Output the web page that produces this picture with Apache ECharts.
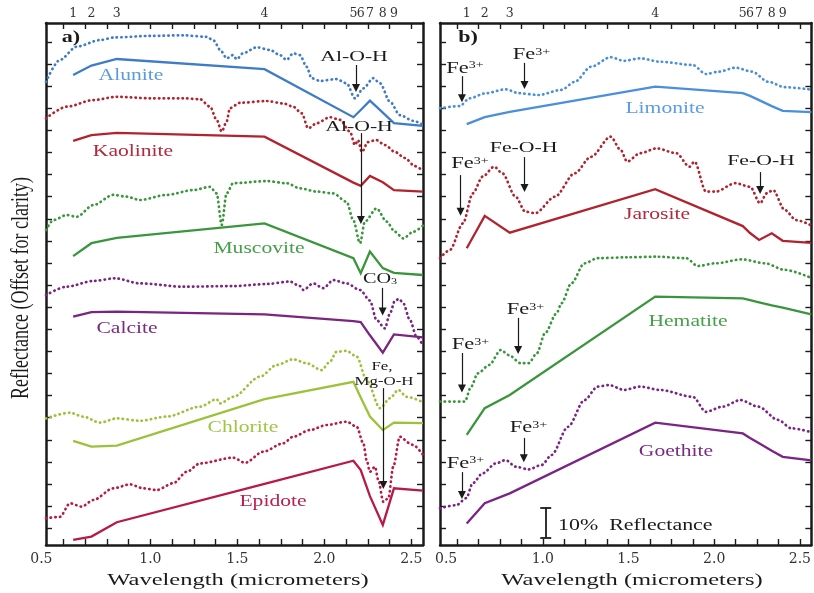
<!DOCTYPE html>
<html>
<head>
<meta charset="utf-8">
<script src="https://cdn.jsdelivr.net/npm/echarts@6/dist/echarts.min.js"></script>
<style>
  html, body { margin: 0; padding: 0; background: #fff; }
  #chart { width: 814px; height: 593px; }
</style>
</head>
<body>
<div id="chart"></div>
<script>
// ASTER band centres (micrometres) and the band numbers printed on the top axis
const bandWl = [0.556, 0.661, 0.807, 1.656, 2.167, 2.209, 2.262, 2.336, 2.400];
const bandNames = ['1', '2', '3', '4', '5', '6', '7', '8', '9'];
const wlMin = 0.4, wlMax = 2.567;
const wlLabels = [0.5, 1.0, 1.5, 2.0, 2.5];
const reflMax = 174;

// Laboratory spectra, [wavelength, reflectance + offset]
const aluniteLab = [[0.40,154.4],[0.48,161.7],[0.576,166.1],[0.71,168.3],[0.797,169.2],[1.0,169.7],[1.187,169.9],[1.324,169.4],[1.36,168.3],[1.41,164.4],[1.438,162.2],[1.475,163.3],[1.496,161.9],[1.532,163.9],[1.611,165.9],[1.687,165.0],[1.745,163.3],[1.783,161.7],[1.821,163.9],[1.86,163.3],[1.898,159.4],[1.927,155.6],[1.975,154.7],[2.07,155.3],[2.128,153.9],[2.176,148.9],[2.224,152.2],[2.281,155.6],[2.32,153.9],[2.377,147.8],[2.434,143.3],[2.51,141.4],[2.567,140.0]];
const kaoliniteLab = [[0.40,142.2],[0.519,146.1],[0.672,148.3],[0.806,149.4],[1.0,148.9],[1.189,148.9],[1.285,148.6],[1.343,146.1],[1.381,141.7],[1.41,137.8],[1.438,141.1],[1.457,145.6],[1.515,147.4],[1.668,148.0],[1.764,147.2],[1.821,146.1],[1.87,143.9],[1.907,138.9],[1.956,140.6],[2.032,142.6],[2.09,141.7],[2.147,137.8],[2.176,133.3],[2.193,135.0],[2.216,131.0],[2.25,134.3],[2.297,135.0],[2.349,133.3],[2.406,131.0],[2.463,129.0],[2.52,126.3],[2.567,124.7]];
const muscoviteLab = [[0.40,105.0],[0.442,108.3],[0.519,110.0],[0.576,109.4],[0.672,113.3],[0.787,116.7],[0.864,116.1],[0.94,115.0],[1.094,116.7],[1.247,118.3],[1.343,119.4],[1.381,117.2],[1.41,106.7],[1.438,117.2],[1.476,120.6],[1.668,121.3],[1.783,120.6],[1.86,118.9],[1.956,117.8],[2.051,117.2],[2.128,114.4],[2.166,108.3],[2.205,100.6],[2.233,107.8],[2.3,112.2],[2.358,107.8],[2.406,104.4],[2.453,102.2],[2.511,104.4],[2.567,106.5]];
const calciteLab = [[0.40,83.3],[0.519,86.1],[0.672,88.0],[0.797,88.9],[0.94,87.2],[1.189,86.1],[1.476,86.3],[1.668,87.0],[1.802,87.8],[1.86,86.3],[1.879,85.0],[1.936,87.2],[1.994,85.6],[2.051,88.3],[2.128,87.2],[2.205,85.0],[2.262,81.5],[2.3,75.0],[2.348,72.2],[2.377,77.2],[2.406,81.5],[2.43,82.0],[2.453,80.6],[2.492,75.0],[2.53,69.4],[2.567,66.5]];
const chloriteLab = [[0.40,42.2],[0.538,44.1],[0.614,42.8],[0.71,40.8],[0.806,42.2],[0.94,41.4],[1.094,42.8],[1.285,46.1],[1.381,48.6],[1.4,47.2],[1.476,49.4],[1.63,56.1],[1.726,60.0],[1.821,61.9],[1.898,60.6],[1.984,58.3],[2.032,61.1],[2.07,64.4],[2.128,64.7],[2.186,62.8],[2.243,55.0],[2.32,45.6],[2.377,48.9],[2.425,51.7],[2.473,49.4],[2.567,47.6]];
const epidoteLab = [[0.40,8.9],[0.48,9.4],[0.538,13.9],[0.605,12.8],[0.672,15.0],[0.787,18.9],[0.883,20.2],[0.959,18.9],[1.036,18.3],[1.132,20.6],[1.209,24.4],[1.285,27.2],[1.476,29.1],[1.544,27.4],[1.649,31.1],[1.764,33.9],[1.821,36.1],[1.917,38.3],[2.013,40.0],[2.128,41.1],[2.186,39.4],[2.224,33.9],[2.243,28.3],[2.262,24.4],[2.291,26.1],[2.31,21.7],[2.339,14.4],[2.368,15.6],[2.396,26.1],[2.434,36.1],[2.492,33.9],[2.511,33.3],[2.567,30.0]];
const limoniteLab = [[0.40,145.6],[0.515,146.3],[0.572,148.9],[0.668,150.6],[0.783,151.9],[0.86,150.6],[0.975,150.0],[1.109,151.7],[1.186,154.4],[1.281,159.4],[1.396,162.6],[1.473,161.4],[1.568,162.2],[1.683,161.1],[1.875,160.0],[1.952,157.0],[2.028,157.8],[2.124,159.1],[2.22,157.8],[2.316,154.4],[2.411,152.6],[2.567,151.8]];
const jarositeLab = [[0.40,95.6],[0.457,98.3],[0.534,107.2],[0.591,117.2],[0.649,122.8],[0.716,126.1],[0.764,123.9],[0.841,116.1],[0.898,111.1],[0.956,110.6],[1.071,116.1],[1.186,123.9],[1.281,129.4],[1.396,136.1],[1.454,131.7],[1.492,127.8],[1.568,130.6],[1.664,132.2],[1.779,130.6],[1.856,126.1],[1.885,127.8],[1.952,117.8],[2.009,117.8],[2.124,120.6],[2.21,119.4],[2.268,113.9],[2.306,117.2],[2.344,118.3],[2.411,111.7],[2.479,108.3],[2.567,106.5]];
const hematiteLab = [[0.40,47.8],[0.544,47.8],[0.582,52.8],[0.62,57.2],[0.687,60.0],[0.755,65.0],[0.802,63.3],[0.87,60.6],[0.917,60.6],[0.965,63.9],[1.013,70.6],[1.08,77.2],[1.109,80.6],[1.166,87.2],[1.243,93.9],[1.32,95.6],[1.492,95.9],[1.664,96.1],[1.837,95.6],[1.904,93.0],[2.009,93.9],[2.163,95.2],[2.297,93.9],[2.411,91.7],[2.567,89.0]];
const goethiteLab = [[0.40,12.2],[0.496,13.3],[0.553,15.6],[0.591,20.6],[0.649,23.9],[0.726,27.2],[0.783,28.3],[0.841,26.1],[0.917,25.2],[0.994,26.7],[1.051,30.0],[1.147,39.4],[1.243,48.3],[1.32,52.8],[1.387,53.3],[1.473,51.7],[1.568,52.8],[1.683,51.7],[1.875,49.4],[1.952,44.4],[2.048,46.1],[2.153,48.3],[2.258,46.1],[2.373,41.7],[2.45,38.9],[2.567,37.6]];

// Band-averaged spectra: one value per band 1-9, then the value at the right edge
const aluniteBand   = [156.7,159.8,162.0,158.6,142.6,145.0,148.1,144.1,140.6,139.7];
const kaoliniteBand = [134.7,136.6,137.4,136.1,120.8,119.7,123.0,120.9,118.3,117.8];
const muscoviteBand = [96.3,100.6,102.4,107.2,95.6,90.6,97.8,92.3,90.7,90.0];
const calciteBand   = [76.1,77.6,77.8,76.9,74.6,74.3,69.9,64.1,70.2,69.2];
const chloriteBand  = [34.7,32.8,33.1,48.6,54.4,49.2,42.8,38.3,40.8,40.6];
const epidoteBand   = [1.7,2.8,7.6,20.4,28.1,25.0,16.3,6.7,18.9,18.1];
const limoniteBand  = [140.3,142.6,144.4,152.8,150.6,149.7,148.3,146.3,144.7,144.3];
const jarositeBand  = [98.9,109.7,104.1,118.6,106.3,104.0,101.7,103.9,101.4,100.7];
const hematiteBand  = [36.7,45.6,50.0,82.8,82.2,81.6,80.9,79.9,79.1,76.9];
const goethiteBand  = [7.2,13.9,17.2,40.8,37.2,35.7,33.9,31.4,29.4,28.2];

// Absorption-feature arrows: [wavelength, tail, head]
const arrowsA = [[2.182,160.0,152.3],[2.21,137.3,108.3],[2.335,85.7,77.8],[2.339,52.3,20.0]];
const arrowsB = [[0.528,156.3,148.9],[0.893,160.7,153.3],[0.893,129.3,119.0],[0.52,123.3,111.1],[2.268,124.3,118.3],[0.856,75.7,65.0],[0.528,64.0,52.2],[0.889,35.7,28.9],[0.528,24.3,16.7]];

// 10 % reflectance scale bar
const scaleBarWl = 1.017, scaleBarBase = 2.4, scaleBarSpan = 10, scaleBarCap = 0.032;

const serif = '"Liberation Serif", "Times New Roman", serif';
const tickSerif = '"DejaVu Serif", serif';
const ink = '#1a1a1a';

const xTickVals = Array.from({ length: 17 }, (_, i) => 0.5 + 0.125 * i);
const yTickVals = Array.from({ length: 23 }, (_, i) => +(5.57 + 7.37 * i).toFixed(3));

function bandLabel(v) {
  const i = bandWl.findIndex(w => Math.abs(w - v) < 1e-6);
  return i < 0 ? '' : bandNames[i];
}

const frameLine = { show: true, onZero: false, lineStyle: { color: ink, width: 2.5 } };
function tickStyle(vals) {
  return { show: true, inside: true, length: 6, customValues: vals, lineStyle: { color: ink, width: 1.4 } };
}

// the first wavelength label sits a little left of its tick
function xAxesFor(gridIndex, firstShift) {
  return [
    { type: 'value', gridIndex, position: 'bottom', min: wlMin, max: wlMax,
      axisLine: frameLine, axisTick: tickStyle(xTickVals), splitLine: { show: false },
      axisLabel: { show: true, customValues: wlLabels,
                   formatter: v => (v === wlLabels[0] ? '{f|' + v.toFixed(1) + '}' : v.toFixed(1)),
                   rich: { f: { fontFamily: tickSerif, fontSize: 14, color: '#333', padding: [0, firstShift, 0, 0] } },
                   fontFamily: tickSerif, fontSize: 14, color: '#333', margin: 7 } },
    { type: 'value', gridIndex, position: 'top', min: wlMin, max: wlMax,
      axisLine: frameLine, axisTick: tickStyle(xTickVals), splitLine: { show: false },
      axisLabel: { show: true, customValues: bandWl, formatter: bandLabel,
                   fontFamily: tickSerif, fontSize: 12.5, color: '#333', margin: 3 } }
  ];
}
function yAxesFor(gridIndex) {
  return ['left', 'right'].map(position => ({
    type: 'value', gridIndex, position, min: 0, max: reflMax,
    axisLine: frameLine, axisTick: tickStyle(yTickVals),
    axisLabel: { show: false }, splitLine: { show: false }
  }));
}

function labSeries(data, color, xi, yi) {
  return { type: 'line', data, xAxisIndex: xi, yAxisIndex: yi, symbol: 'none', showSymbol: false,
    smooth: 0.3, smoothMonotone: 'x', clip: true, silent: true, z: 2,
    lineStyle: { color, width: 2.7, type: [0.4, 4.3], cap: 'round' } };
}
function bandSeries(vals, color, xi, yi) {
  const data = bandWl.concat([wlMax]).map((w, i) => [w, vals[i]]);
  return { type: 'line', data, xAxisIndex: xi, yAxisIndex: yi, symbol: 'none', showSymbol: false,
    clip: true, silent: true, z: 3, lineStyle: { color, width: 2.3, join: 'miter' } };
}
function arrowSeries(list, xi, yi) {
  return { type: 'line', data: [], xAxisIndex: xi, yAxisIndex: yi, silent: true,
    markLine: { silent: true, animation: false, symbol: ['none', 'triangle'], symbolSize: 8,
      label: { show: false }, emphasis: { disabled: true },
      lineStyle: { color: ink, width: 1.2, type: 'solid' },
      data: list.map(a => [{ coord: [a[0], a[1]] }, { coord: [a[0], a[2]] }]) } };
}
function scaleBarSeries(xi, yi) {
  const top = scaleBarBase + scaleBarSpan;
  return { type: 'line', data: [], xAxisIndex: xi, yAxisIndex: yi, silent: true,
    markLine: { silent: true, animation: false, symbol: ['none', 'none'],
      label: { show: false }, emphasis: { disabled: true },
      lineStyle: { color: ink, width: 1.8, type: 'solid' },
      data: [
        [{ coord: [scaleBarWl, scaleBarBase] }, { coord: [scaleBarWl, top] }],
        [{ coord: [scaleBarWl - scaleBarCap, scaleBarBase] }, { coord: [scaleBarWl + scaleBarCap, scaleBarBase] }],
        [{ coord: [scaleBarWl - scaleBarCap, top] }, { coord: [scaleBarWl + scaleBarCap, top] }]
      ] } };
}

// Minerals: colour of the curves, colour of the name
const col = {
  alunite:   ['#3f7cc8', '#5b9bd8'],
  kaolinite: ['#b3232f', '#b3283a'],
  muscovite: ['#3a963c', '#45a047'],
  calcite:   ['#7a2580', '#7a2a80'],
  chlorite:  ['#9cc23a', '#a2c444'],
  epidote:   ['#b81a48', '#b8204e'],
  limonite:  ['#4a8fdb', '#5a9de0'],
  jarosite:  ['#b0232f', '#b3283a'],
  hematite:  ['#3a963c', '#45a047'],
  goethite:  ['#7a2585', '#7a2a84']
};

const series = [
  labSeries(aluniteLab, col.alunite[0], 0, 0),     bandSeries(aluniteBand, col.alunite[0], 0, 0),
  labSeries(kaoliniteLab, col.kaolinite[0], 0, 0), bandSeries(kaoliniteBand, col.kaolinite[0], 0, 0),
  labSeries(muscoviteLab, col.muscovite[0], 0, 0), bandSeries(muscoviteBand, col.muscovite[0], 0, 0),
  labSeries(calciteLab, col.calcite[0], 0, 0),     bandSeries(calciteBand, col.calcite[0], 0, 0),
  labSeries(chloriteLab, col.chlorite[0], 0, 0),   bandSeries(chloriteBand, col.chlorite[0], 0, 0),
  labSeries(epidoteLab, col.epidote[0], 0, 0),     bandSeries(epidoteBand, col.epidote[0], 0, 0),
  labSeries(limoniteLab, col.limonite[0], 2, 2),   bandSeries(limoniteBand, col.limonite[0], 2, 2),
  labSeries(jarositeLab, col.jarosite[0], 2, 2),   bandSeries(jarositeBand, col.jarosite[0], 2, 2),
  labSeries(hematiteLab, col.hematite[0], 2, 2),   bandSeries(hematiteBand, col.hematite[0], 2, 2),
  labSeries(goethiteLab, col.goethite[0], 2, 2),   bandSeries(goethiteBand, col.goethite[0], 2, 2),
  arrowSeries(arrowsA, 0, 0),
  arrowSeries(arrowsB, 2, 2),
  scaleBarSeries(2, 2)
];

// Text helpers (the printed lettering is set wide, hence the horizontal scale)
function txt(text, x, y, size, color, sx, opts) {
  opts = opts || {};
  return { type: 'text', x, y, scaleX: sx, rotation: opts.rotation || 0, scaleY: opts.sy || 1,
    silent: true, z: 20,
    style: { text, fill: color, fontFamily: serif, fontSize: size, fontWeight: opts.weight || 'normal',
             align: opts.align || 'center', verticalAlign: 'middle' } };
}
function fe3(x, y) {
  return { type: 'text', x, y, scaleX: 1.4, silent: true, z: 20,
    style: { text: '{a|Fe}{s|3+}', align: 'center', verticalAlign: 'middle',
      rich: { a: { fontFamily: serif, fontSize: 16, fill: ink, lineHeight: 16 },
              s: { fontFamily: serif, fontSize: 10, fill: ink, verticalAlign: 'top', lineHeight: 10, padding: [0, 0, 6, 0] } } } };
}

const graphic = [
  txt('a)', 71, 38, 17, ink, 1.3, { weight: 'bold' }),
  txt('b)', 468, 38, 17, ink, 1.3, { weight: 'bold' }),
  txt('Alunite', 131, 76, 17, col.alunite[1], 1.27),
  txt('Kaolinite', 133, 152, 17, col.kaolinite[1], 1.27),
  txt('Muscovite', 259, 249, 17, col.muscovite[1], 1.27),
  txt('Calcite', 127, 329, 17, col.calcite[1], 1.27),
  txt('Chlorite', 243, 427.5, 17, col.chlorite[1], 1.27),
  txt('Epidote', 273, 502, 17, col.epidote[1], 1.27),
  txt('Limonite', 665, 109, 17, col.limonite[1], 1.27),
  txt('Jarosite', 657, 215, 17, col.jarosite[1], 1.27),
  txt('Hematite', 688, 321.7, 17, col.hematite[1], 1.27),
  txt('Goethite', 676, 451.7, 17, col.goethite[1], 1.27),
  txt('Al-O-H', 354, 57.5, 15, ink, 1.45),
  txt('Al-O-H', 359, 127, 15, ink, 1.45),
  { type: 'text', x: 380, y: 279, scaleX: 1.35, silent: true, z: 20,
    style: { text: '{a|CO}{s|3}', align: 'center', verticalAlign: 'middle',
      rich: { a: { fontFamily: serif, fontSize: 15, fill: ink, lineHeight: 15 },
              s: { fontFamily: serif, fontSize: 9, fill: ink, verticalAlign: 'bottom', lineHeight: 9, padding: [5, 0, 0, 0] } } } },
  txt('Fe,', 382, 366.7, 13, ink, 1.3),
  txt('Mg-O-H', 384, 381.7, 13, ink, 1.3),
  fe3(465, 68.7),
  fe3(531.5, 55),
  txt('Fe-O-H', 523.7, 148.5, 15, ink, 1.45),
  fe3(470, 164),
  txt('Fe-O-H', 761, 161, 15, ink, 1.45),
  fe3(525.5, 310),
  fe3(470.5, 345),
  fe3(528.5, 428),
  fe3(465.5, 463.7),
  txt('10%  Reflectance', 558, 526, 16, ink, 1.37, { align: 'left' }),
  txt('Wavelength (micrometers)', 238, 580, 17.5, ink, 1.4),
  txt('Wavelength (micrometers)', 632, 580, 17.5, ink, 1.4),
  txt('Reflectance (Offset for clarity)', 22, 288, 18, ink, 1, { rotation: Math.PI / 2, sy: 1.35 })
];

const chart = echarts.init(document.getElementById('chart'));
chart.setOption({
  animation: false,
  backgroundColor: '#fff',
  grid: [
    { left: 46, top: 23, width: 377, height: 522 },
    { left: 440, top: 23, width: 377, height: 522 }
  ],
  xAxis: xAxesFor(0, 44).concat(xAxesFor(1, 22)),
  yAxis: yAxesFor(0).concat(yAxesFor(1)),
  series,
  graphic
});
</script>
</body>
</html>
